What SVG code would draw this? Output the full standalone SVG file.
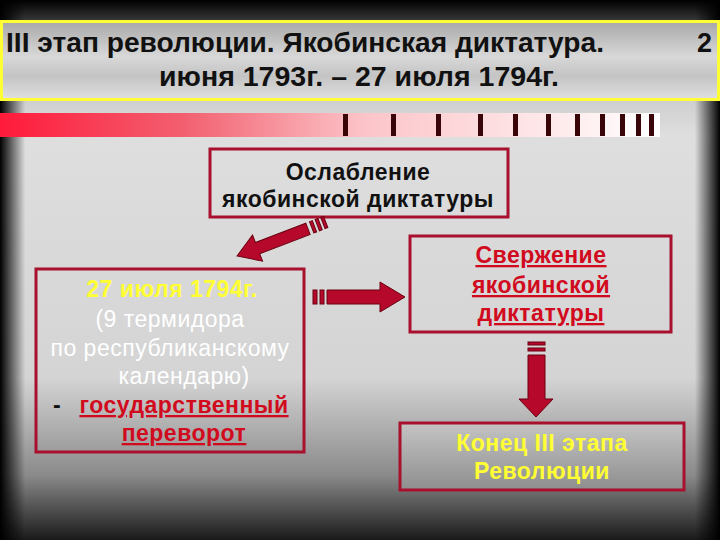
<svg xmlns="http://www.w3.org/2000/svg" width="720" height="540" viewBox="0 0 720 540">
<defs>
<linearGradient id="bgv" x1="0" y1="0" x2="0" y2="1">
<stop offset="0" stop-color="#000"/>
<stop offset="0.035" stop-color="#333"/>
<stop offset="0.1" stop-color="#bbb"/>
<stop offset="0.25" stop-color="#dedede"/>
<stop offset="0.7" stop-color="#d4d4d4"/>
<stop offset="0.88" stop-color="#8a8a8a"/>
<stop offset="1" stop-color="#1a1a1a"/>
</linearGradient>
<linearGradient id="bgh" x1="0" y1="0" x2="1" y2="0">
<stop offset="0" stop-color="#000" stop-opacity="1"/>
<stop offset="0.035" stop-color="#000" stop-opacity="0"/>
<stop offset="0.965" stop-color="#000" stop-opacity="0"/>
<stop offset="1" stop-color="#000" stop-opacity="1"/>
</linearGradient>
<linearGradient id="title" x1="0" y1="0" x2="0" y2="1">
<stop offset="0" stop-color="#a8a8a8"/>
<stop offset="0.45" stop-color="#d8d8d8"/>
<stop offset="0.7" stop-color="#c4c4c4"/>
<stop offset="1" stop-color="#e0e0e0"/>
</linearGradient>
<linearGradient id="band" x1="0" y1="0" x2="1" y2="0">
<stop offset="0" stop-color="#ff1a3a"/>
<stop offset="0.28" stop-color="#f26070"/>
<stop offset="0.55" stop-color="#fcc4c8"/>
<stop offset="1" stop-color="#ffffff"/>
</linearGradient>
<linearGradient id="endbox" x1="0" y1="0" x2="0" y2="1">
<stop offset="0" stop-color="#c4c4c4"/>
<stop offset="1" stop-color="#8e8e8e"/>
</linearGradient>
<style>
.box{fill:none;stroke:#a8102e;stroke-width:3}
.t{font-family:"Liberation Sans",Arial,sans-serif;font-size:23px;text-anchor:middle;letter-spacing:0.5px}
.b{font-weight:bold}
.red{fill:#d10a1e;font-weight:bold;text-decoration:underline}
.arr{fill:#b5082a;stroke:#6a0010;stroke-width:1}
.title{font-family:"Liberation Sans Narrow","Liberation Sans",Arial,sans-serif;font-weight:bold;font-size:27px;fill:#111}
</style>
</defs>
<rect width="720" height="540" fill="url(#bgv)"/>
<rect width="720" height="540" fill="url(#bgh)"/>

<g id="title-box">
<rect x="1.5" y="21.5" width="717" height="78" fill="url(#title)" stroke="#ffff33" stroke-width="3"/>
<text class="title" x="6" y="52" textLength="598" lengthAdjust="spacingAndGlyphs">III этап революции. Якобинская диктатура.</text>
<text class="title" x="712" y="52" text-anchor="end">2</text>
<text class="title" x="159" y="86" textLength="400" lengthAdjust="spacingAndGlyphs">июня 1793г. – 27 июля 1794г.</text>
</g>

<g id="band">
<rect x="0" y="113" width="660" height="24" fill="url(#band)"/>
<g fill="#3a0508">
<rect x="343" y="114" width="5" height="22"/>
<rect x="391" y="114" width="5" height="22"/>
<rect x="436" y="114" width="5" height="22"/>
<rect x="478" y="114" width="5" height="22"/>
<rect x="513" y="114" width="5" height="22"/>
<rect x="546" y="114" width="5" height="22"/>
<rect x="575" y="114" width="5" height="22"/>
<rect x="600" y="114" width="5" height="22"/>
<rect x="620" y="114" width="5" height="22"/>
<rect x="636" y="114" width="5" height="22"/>
<rect x="649" y="114" width="5" height="22"/>
</g>
</g>

<g id="node-weakening">
<rect class="box" x="210" y="149" width="298" height="68"/>
<text class="t b" x="358" y="180" fill="#111">Ослабление</text>
<text class="t b" x="358" y="207" fill="#111">якобинской диктатуры</text>
</g>

<g id="node-coup">
<rect class="box" x="36" y="269" width="268" height="183"/>
<text class="t b" x="172" y="297" fill="#ffff33">27 июля  1794г.</text>
<text class="t" x="170" y="327" fill="#fff">(9 термидора</text>
<text class="t" x="170" y="356" fill="#fff">по республиканскому</text>
<text class="t" x="184" y="384" fill="#fff">календарю)</text>
<text class="t b" x="57" y="413" fill="#111">-</text>
<text class="t red" x="184" y="413">государственный</text>
<text class="t red" x="184" y="441">переворот</text>
</g>

<g id="node-overthrow">
<rect class="box" x="410" y="236" width="261" height="96"/>
<text class="t red" x="541" y="263">Свержение</text>
<text class="t red" x="541" y="293">якобинской</text>
<text class="t red" x="541" y="321">диктатуры</text>
</g>

<g id="node-end">
<rect x="400" y="423" width="284" height="67" fill="url(#endbox)" stroke="#a8102e" stroke-width="3"/>
<text class="t b" x="542" y="451" fill="#ffff33">Конец III этапа</text>
<text class="t b" x="542" y="479" fill="#ffff33">Революции</text>
</g>

<g id="connectors">
<g transform="translate(237,256) rotate(-21)">
<polygon class="arr" points="0,0 22,-14 22,-6 76,-6 76,6 22,6 22,14"/>
<rect class="arr" x="80" y="-6" width="3" height="12"/>
<rect class="arr" x="86" y="-6" width="3" height="12"/>
<rect class="arr" x="92" y="-6" width="3" height="12"/>
</g>
<g>
<rect class="arr" x="313" y="290" width="4" height="14"/>
<rect class="arr" x="320" y="290" width="4" height="14"/>
<polygon class="arr" points="327,290 380,290 380,282 405,297 380,312 380,304 327,304"/>
</g>
<g>
<rect class="arr" x="528" y="342" width="17" height="3"/>
<rect class="arr" x="528" y="348" width="17" height="3"/>
<polygon class="arr" points="528,355 545,355 545,399 553,399 536,417 519,399 528,399"/>
</g>
</g>
</svg>
